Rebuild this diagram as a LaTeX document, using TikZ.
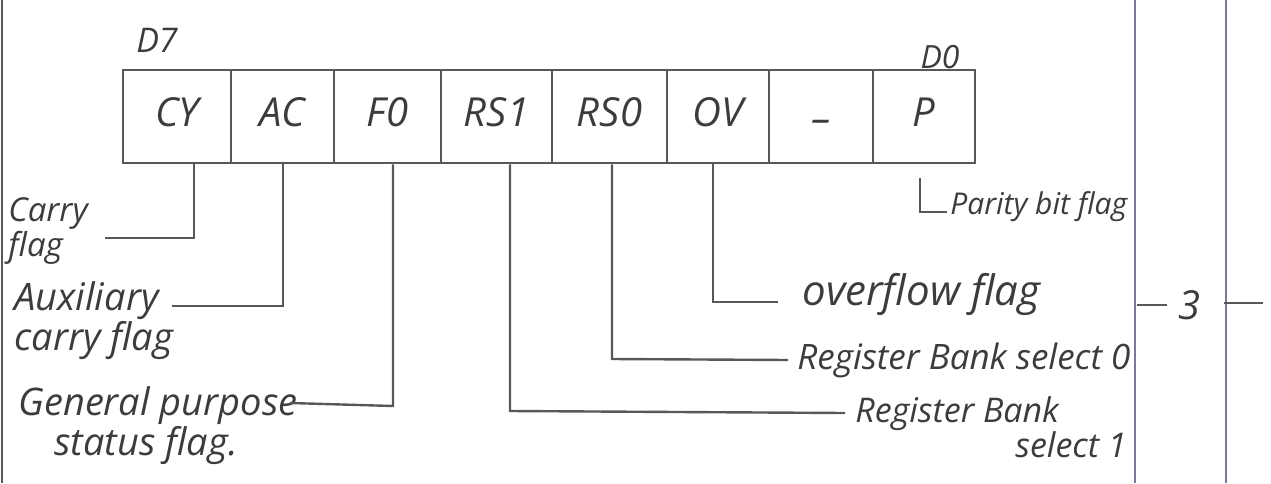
\documentclass[tikz,border=0pt]{standalone}
\usepackage{fontspec}
\setmainfont{Open Sans}
\newfontfamily\hand{Open Sans}
\usetikzlibrary{calc}
\definecolor{inkgray}{RGB}{88,88,88}
\definecolor{textgray}{RGB}{60,60,60}
\definecolor{rulegray}{RGB}{125,120,150}
% one bit cell of the PSW register: name, left x, right x, text
\newcommand\regcell[4]{%
  \node[cell, minimum width={(#3-#2)*0.5pt}] (#1) at ({(#2+#3)/2},116.5) {#4};}
\begin{document}
\begin{tikzpicture}[x=0.5pt,y=-0.5pt,
  ink/.style={draw=inkgray, line width=1.4pt},
  cell/.style={ink, minimum height=46.5pt, inner sep=0pt, text=textgray,
    text height=14pt, text depth=4pt,
    font=\hand\itshape\fontsize{20}{22}\selectfont},
  lead/.style={draw=inkgray, line width=1.2pt},
  lbl/.style={inner sep=0pt, text=textgray, align=left,
    font=\hand\itshape\fontsize{#1}{17.5}\selectfont},
  lbl/.default=17,
  pagerule/.style={draw=rulegray, line width=1.1pt}]
\useasboundingbox (0,0) rectangle (1271,483);

% page margin rules
\draw[draw=inkgray, line width=1.2pt] (2,0) -- (2,483);
\draw[pagerule] (1135,0) -- (1135,483);
\draw[pagerule] (1226,0) -- (1226,483);

% the register
\regcell{cy}{123}{231}{CY}
\regcell{ac}{231}{334}{AC}
\regcell{fz}{334}{441}{F0}
\regcell{rsa}{441}{552}{RS1}
\regcell{rsb}{552}{667}{RS0}
\regcell{ov}{667}{769}{OV}
\regcell{un}{769}{873}{\raisebox{-3pt}{–}}
\regcell{pp}{873}{975}{P}

\node[lbl=17] (d7) at (157,40) {D7};
\node[lbl=16] (d0) at (940,57) {D0};

% bit descriptions
\node[lbl=16.5, anchor=north west] (tcy) at (8,197) {Carry\\flag};
\node[lbl=19, anchor=north west] (tac) at (14,281) {Auxiliary\\carry flag};
\node[lbl=19, anchor=north west] (tfz) at (18,386) {General purpose\\\hspace*{18pt}status flag.};
\node[lbl=21, anchor=west] (tov) at (802,294) {overflow flag};
\node[lbl=17.5, anchor=west] (trsb) at (797,360) {Register Bank select 0};
\node[lbl=17, anchor=north west] (trsa) at (855,396) {Register Bank\\\hspace*{80pt}select 1};
\node[lbl=15, anchor=west] (tp) at (950,207) {Parity bit flag};

% leader bends and free ends
\coordinate (kcy) at (194,238);  \coordinate (ecy) at (105,238);
\coordinate (kac) at (283,306);  \coordinate (eac) at (172,306);
\coordinate (kfz) at (393,406);  \coordinate (efz) at (290,403);
\coordinate (krsa) at (510,411); \coordinate (ersa) at (845,413);
\coordinate (krsb) at (612,359); \coordinate (ersb) at (788,360);
\coordinate (kov) at (713,302);  \coordinate (eov) at (778,302);
\coordinate (pa) at (920,178);   \coordinate (pk) at (920,212);
\coordinate (pe) at (947,212);

\draw[lead] (cy.south -| kcy) -- (kcy) -- (ecy);
\draw[lead] (ac.south -| kac) -- (kac) -- (eac);
\draw[lead] (fz.south -| kfz) -- (kfz) -- (efz);
\draw[lead] (rsa.south -| krsa) -- (krsa) -- (ersa);
\draw[lead] (rsb.south -| krsb) -- (krsb) -- (ersb);
\draw[lead] (ov.south -| kov) -- (kov) -- (eov);
\draw[lead] (pa) -- (pk) -- (pe);

% width mark between the margin rules
\node[lbl=20] (three) at (1190,305) {3};
\coordinate (ma) at (1137,305); \coordinate (mb) at (1167,305);
\coordinate (mc) at (1224,303); \coordinate (md) at (1263,303);
\draw[lead] (ma) -- (mb);
\draw[lead] (mc) -- (md);
\end{tikzpicture}
\end{document}
